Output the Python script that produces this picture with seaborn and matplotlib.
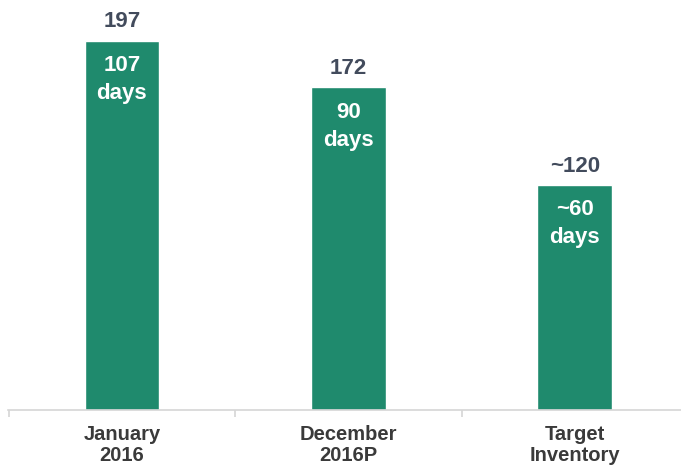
import matplotlib
matplotlib.use("Agg")
import matplotlib.pyplot as plt
import seaborn as sns
import pandas as pd

categories = ["January\n2016", "December\n2016P", "Target\nInventory"]
values = [197, 172, 120]
value_labels = ["197", "172", "~120"]
inner_top = ["107", "90", "~60"]
inner_bottom = ["days", "days", "days"]

sns.set_theme(style="white")
plt.rcParams['font.family'] = ['Liberation Sans', 'DejaVu Sans']

df = pd.DataFrame({"cat": categories, "val": values})

fig = plt.figure(figsize=(6.81, 4.68), dpi=100)
ax = fig.add_axes([0.0117, 0.1239, 0.988, 0.876])
sns.barplot(data=df, x="cat", y="val", color="#1f8a6d", saturation=1,
            width=0.33, ax=ax)

ax.set_xlim(-0.503, 2.468)
ax.set_ylim(0, 218.6)
ax.set_xlabel("")
ax.set_ylabel("")
ax.set_yticks([])
for s in ["top", "right", "left"]:
    ax.spines[s].set_visible(False)
ax.spines["bottom"].set_color("#d6d6d6")
ax.spines["bottom"].set_linewidth(1.2)

ax.set_xticks(range(len(categories)))
ax.set_xticklabels(categories, fontsize=14.5, fontweight="bold", color="#3a3a3a",
                   linespacing=1.12)
ax.tick_params(axis="x", length=0, pad=11)
ax.set_xticks([-0.497, 0.5, 1.5], minor=True)
ax.tick_params(axis="x", which="minor", length=5, color="#d6d6d6", width=1.2,
               direction="out", bottom=True)

for i, v in enumerate(values):
    ax.annotate(value_labels[i], (i, v), xytext=(0, 13.5), textcoords="offset points",
                ha="center", va="center", fontsize=16, fontweight="bold", color="#424b5c")
    ax.annotate(inner_top[i], (i, v), xytext=(0, -18), textcoords="offset points",
                ha="center", va="center", fontsize=16, fontweight="bold", color="white")
    ax.annotate(inner_bottom[i], (i, v), xytext=(0, -38), textcoords="offset points",
                ha="center", va="center", fontsize=16, fontweight="bold", color="white")

fig.savefig("out.png", dpi=100)
